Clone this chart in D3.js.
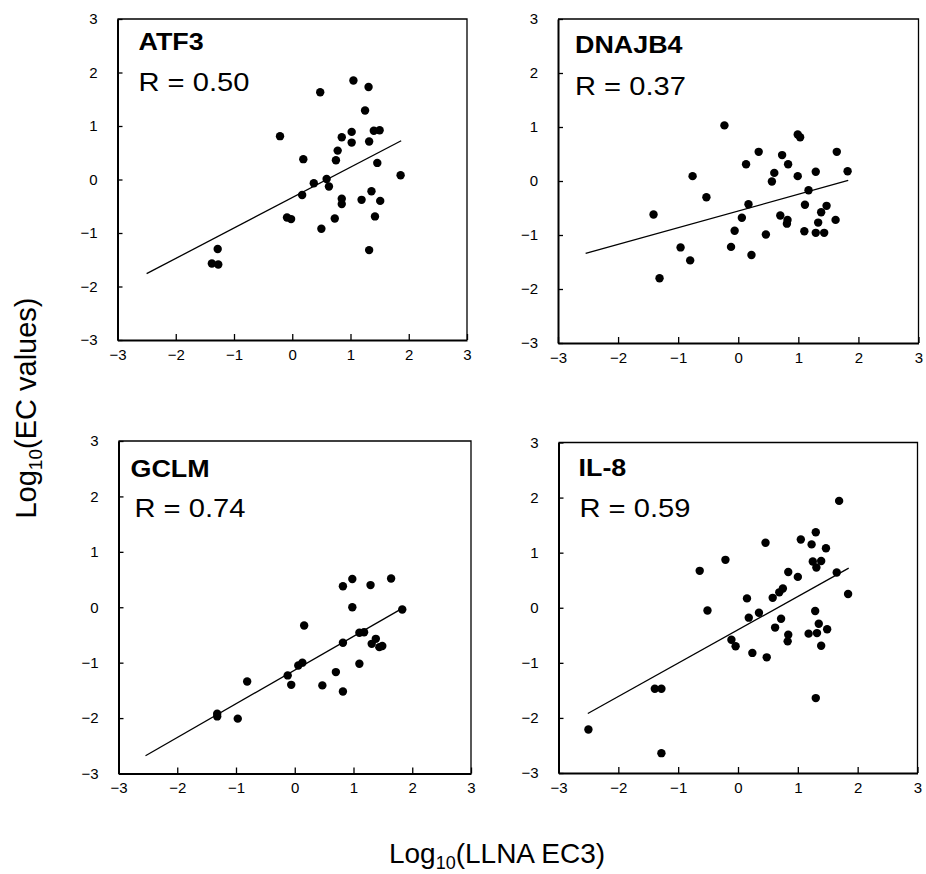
<!DOCTYPE html>
<html>
<head>
<meta charset="utf-8">
<script src="https://cdn.jsdelivr.net/npm/d3@7"></script>
<style>
  body { margin: 0; background: #fff; }
  svg { display: block; font-family: "Liberation Sans", Arial, sans-serif; }
</style>
</head>
<body>
<svg width="926" height="874"></svg>
<script>
// genes and correlation coefficients
var genes = ["ATF3", "DNAJB4", "GCLM", "IL-8"];
var rLabels = ["R = 0.50", "R = 0.37", "R = 0.74", "R = 0.59"];
var tickVals = [-3, -2, -1, 0, 1, 2, 3];

// log10(LLNA EC3) vs log10(EC value)
var atf3X = [1.05, 1.31, 0.48, 1.25, 1.02, 1.40, 1.50, -0.21, 0.85, 1.02, 1.32, 0.78, 0.19, 0.75, 1.46, 1.86, 0.59, 0.37, 0.63, 1.36, 0.17, 0.85, 0.85, 1.19, 1.51, -0.09, -0.02, 0.73, 1.42, 0.50, 1.32, -1.28, -1.38, -1.27];
var atf3Y = [1.85, 1.73, 1.63, 1.29, 0.89, 0.91, 0.92, 0.81, 0.79, 0.69, 0.71, 0.54, 0.38, 0.36, 0.31, 0.08, 0.01, -0.07, -0.13, -0.22, -0.29, -0.36, -0.46, -0.38, -0.40, -0.71, -0.74, -0.73, -0.69, -0.92, -1.32, -1.30, -1.57, -1.59];

var dnajb4X = [-0.23, 0.99, 1.03, 0.34, 0.73, 1.64, 0.13, 0.83, -0.76, 0.60, 0.99, 1.29, 1.82, 0.56, 1.17, -0.53, 0.17, 1.11, 1.47, -1.41, 0.06, 0.70, 0.82, 0.81, 1.38, 1.33, 1.62, -0.06, 0.46, 1.10, 1.29, 1.43, -0.96, -0.12, -0.80, 0.22, -1.31];
var dnajb4Y = [1.03, 0.86, 0.81, 0.54, 0.48, 0.54, 0.31, 0.31, 0.09, 0.15, 0.09, 0.17, 0.18, -0.01, -0.17, -0.30, -0.43, -0.44, -0.46, -0.62, -0.68, -0.64, -0.72, -0.79, -0.58, -0.77, -0.72, -0.92, -0.99, -0.93, -0.96, -0.96, -1.23, -1.22, -1.47, -1.37, -1.80];

var gclmX = [0.98, 1.64, 0.82, 1.29, 0.98, 1.83, 0.16, 1.10, 1.18, 0.82, 1.38, 1.31, 1.44, 1.49, 0.13, 0.06, 1.10, -0.12, 0.70, -0.81, -0.06, 0.47, 0.82, -1.32, -1.32, -0.97];
var gclmY = [0.51, 0.52, 0.38, 0.40, 0.00, -0.04, -0.33, -0.46, -0.45, -0.64, -0.57, -0.66, -0.72, -0.70, -1.00, -1.05, -1.02, -1.23, -1.17, -1.34, -1.40, -1.41, -1.52, -1.92, -1.97, -2.01];

var il8X = [1.69, 1.30, 1.05, 0.46, 1.23, 1.47, -0.21, 1.25, 1.39, 1.31, -0.64, 0.84, 1.65, 1.00, 0.75, 0.69, 1.84, 0.15, 0.58, -0.51, 1.29, 0.35, 0.18, 0.72, 1.35, 0.62, 1.49, 1.18, 1.32, 0.84, 0.83, -0.11, -0.04, 1.39, 0.24, 0.48, -1.39, -1.28, 1.30, -2.50, -1.28];
var il8Y = [1.94, 1.37, 1.24, 1.18, 1.15, 1.08, 0.87, 0.84, 0.85, 0.73, 0.67, 0.65, 0.64, 0.56, 0.35, 0.28, 0.25, 0.17, 0.18, -0.05, -0.06, -0.09, -0.18, -0.20, -0.29, -0.36, -0.39, -0.47, -0.46, -0.49, -0.61, -0.58, -0.70, -0.69, -0.82, -0.90, -1.47, -1.47, -1.64, -2.21, -2.64];

// regression line end points, per gene
var fitX0 = [-2.50, -2.54, -2.54, -2.51];
var fitY0 = [-1.76, -1.34, -2.68, -1.92];
var fitX1 = [1.87, 1.83, 1.83, 1.85];
var fitY1 = [0.725, 0.01, -0.02, 0.72];

var xs = [atf3X, dnajb4X, gclmX, il8X];
var ys = [atf3Y, dnajb4Y, gclmY, il8Y];

// panel frames in pixels (left, right, top, bottom) and label offsets
var boxes = [
  {l: 117.5, r: 467, t: 19, b: 340, tx: 21, ty: 31, rx: 21, ry: 72},
  {l: 558, r: 918.5, t: 19, b: 343, tx: 17, ty: 34, rx: 17, ry: 76},
  {l: 118.5, r: 471, t: 441, b: 773.5, tx: 12, ty: 36, rx: 16, ry: 76},
  {l: 558.5, r: 917.5, t: 442.5, b: 773, tx: 20, ty: 33, rx: 21, ry: 74}
];

var svg = d3.select("svg");
var fmt = d3.format("d");

genes.forEach(function(gene, i) {
  var box = boxes[i];
  var x = d3.scaleLinear().domain([-3, 3]).range([box.l, box.r]);
  var y = d3.scaleLinear().domain([-3, 3]).range([box.b, box.t]);

  var g = svg.append("g");

  // frame (top and right)
  g.append("path")
      .attr("d", "M" + box.l + "," + box.t + "H" + box.r + "V" + box.b)
      .attr("fill", "none")
      .attr("stroke", "#000")
      .attr("stroke-width", 1.3);

  var xAxis = g.append("g")
      .attr("transform", "translate(0," + box.b + ")")
      .call(d3.axisBottom(x).tickValues(tickVals).tickFormat(fmt)
        .tickSizeInner(-6).tickSizeOuter(0).tickPadding(9));
  var yAxis = g.append("g")
      .attr("transform", "translate(" + box.l + ",0)")
      .call(d3.axisLeft(y).tickValues(tickVals).tickFormat(fmt)
        .tickSizeInner(-5).tickSizeOuter(0).tickPadding(20));

  [xAxis, yAxis].forEach(function(a) {
    a.select(".domain").attr("stroke-width", 2);
    a.selectAll(".tick line").attr("stroke-width", 1.3);
    a.selectAll(".tick text")
        .attr("font-family", "Liberation Sans, Arial, sans-serif")
        .attr("font-size", 15)
        .attr("fill", "#000");
  });

  // regression line
  g.append("line")
      .attr("x1", x(fitX0[i])).attr("y1", y(fitY0[i]))
      .attr("x2", x(fitX1[i])).attr("y2", y(fitY1[i]))
      .attr("stroke", "#000")
      .attr("stroke-width", 1.3);

  g.append("g")
    .selectAll("circle")
    .data(d3.range(xs[i].length))
    .enter().append("circle")
      .attr("cx", function(k) { return x(xs[i][k]); })
      .attr("cy", function(k) { return y(ys[i][k]); })
      .attr("r", 4.2)
      .attr("fill", "#000");

  g.append("text")
      .attr("transform", "translate(" + (box.l + box.tx) + "," + (box.t + box.ty) + ") scale(1.12,1)")
      .attr("font-size", 24)
      .attr("font-weight", "bold")
      .text(gene);

  g.append("text")
      .attr("transform", "translate(" + (box.l + box.rx) + "," + (box.t + box.ry) + ") scale(1.12,1)")
      .attr("font-size", 26)
      .text(rLabels[i]);
});

// shared axis titles
var yTitle = svg.append("text")
    .attr("transform", "translate(36,408) rotate(-90)")
    .attr("text-anchor", "middle")
    .attr("font-size", 29);
yTitle.append("tspan").text("Log");
yTitle.append("tspan").attr("font-size", 19).attr("dy", 6).text("10");
yTitle.append("tspan").attr("dy", -6).text("(EC values)");

var xTitle = svg.append("text")
    .attr("transform", "translate(497,863)")
    .attr("text-anchor", "middle")
    .attr("font-size", 28);
xTitle.append("tspan").text("Log");
xTitle.append("tspan").attr("font-size", 18).attr("dy", 6).text("10");
xTitle.append("tspan").attr("dy", -6).text("(LLNA EC3)");
</script>
</body>
</html>
